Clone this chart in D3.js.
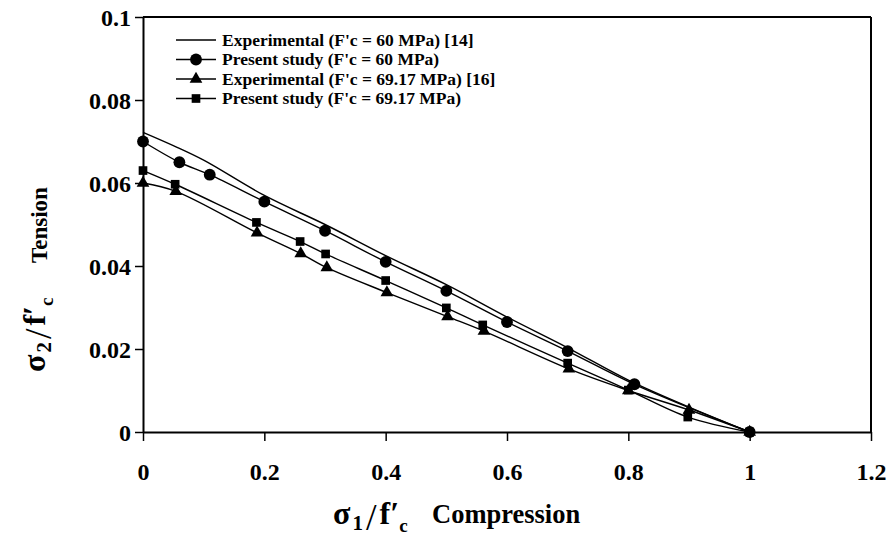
<!DOCTYPE html>
<html>
<head>
<meta charset="utf-8">
<script src="https://cdn.jsdelivr.net/npm/d3@7"></script>
<style>
  html, body { margin: 0; padding: 0; background: #fff; }
  svg text { font-family: "Liberation Serif", "DejaVu Serif", "Times New Roman", serif; font-weight: bold; fill: #000; }
</style>
</head>
<body>
<div id="chart"></div>
<script>
// --- data ---
const xTicks = [0, 0.2, 0.4, 0.6, 0.8, 1, 1.2];
const yTicks = [0, 0.02, 0.04, 0.06, 0.08, 0.1];

const exp60X = [0, 0.05, 0.1, 0.2, 0.3, 0.4, 0.5, 0.6, 0.7, 0.8, 0.9, 1.0];
const exp60Y = [0.0722, 0.069, 0.0655, 0.057, 0.050, 0.0425, 0.0355, 0.0277, 0.0203, 0.0125, 0.006, 0];

const pres60X = [0, 0.06, 0.11, 0.2, 0.3, 0.4, 0.5, 0.6, 0.7, 0.81, 1.0];
const pres60Y = [0.070, 0.065, 0.062, 0.0555, 0.0485, 0.041, 0.034, 0.0265, 0.0195, 0.0115, 0];

const exp69X = [0, 0.054, 0.188, 0.26, 0.303, 0.402, 0.502, 0.562, 0.702, 0.8, 0.9, 1.0];
const exp69Y = [0.060, 0.058, 0.048, 0.043, 0.0396, 0.0336, 0.0278, 0.0243, 0.0152, 0.0100, 0.0053, 0];

const pres69X = [0, 0.053, 0.187, 0.259, 0.301, 0.4, 0.5, 0.56, 0.7, 0.8, 0.898, 1.0];
const pres69Y = [0.063, 0.0597, 0.0505, 0.0459, 0.0429, 0.0365, 0.0299, 0.0258, 0.0166, 0.0101, 0.0036, 0];

const legendLabels = [
  "Experimental (F'c = 60 MPa) [14]",
  "Present study (F'c = 60 MPa)",
  "Experimental (F'c = 69.17 MPa) [16]",
  "Present study (F'c = 69.17 MPa)"
];

const W = 891, H = 543;
const margin = {top: 17, right: 20, bottom: 111, left: 143};
const iw = W - margin.left - margin.right;
const ih = H - margin.top - margin.bottom;

const svg = d3.select('#chart').append('svg')
  .attr('width', W).attr('height', H);

const g = svg.append('g').attr('transform', `translate(${margin.left},${margin.top})`);

const x = d3.scaleLinear().domain([0, 1.2]).range([0, iw]);
const y = d3.scaleLinear().domain([0, 0.1]).range([ih, 0]);

const fmt = d => d === 0 ? '0' : String(+d.toFixed(2));

// frame: top + right
g.append('line').attr('x1', 0).attr('x2', iw).attr('y1', 0).attr('y2', 0)
  .attr('stroke', '#000').attr('stroke-width', 2);
g.append('line').attr('x1', iw).attr('x2', iw).attr('y1', 0).attr('y2', ih)
  .attr('stroke', '#000').attr('stroke-width', 2);

// axes
const xAxis = g.append('g').attr('transform', `translate(0,${ih})`)
  .call(d3.axisBottom(x).tickValues(xTicks).tickFormat(fmt).tickSize(9).tickSizeOuter(0));
const yAxis = g.append('g')
  .call(d3.axisLeft(y).tickValues(yTicks).tickFormat(fmt).tickSize(8).tickSizeOuter(0));

[xAxis, yAxis].forEach(a => {
  a.attr('font-family', null).attr('font-size', null);
  a.select('.domain').attr('stroke-width', 2);
  a.selectAll('.tick line').attr('stroke-width', 1.5);
  a.selectAll('.tick text').attr('font-size', 24);
});
xAxis.selectAll('.tick text').attr('y', 48).attr('dy', 0);
yAxis.selectAll('.tick text').attr('x', -12).attr('dy', '0.35em');

// series
const series = [
  {xs: exp60X, ys: exp60Y, marker: null},
  {xs: pres60X, ys: pres60Y, marker: 'circle'},
  {xs: exp69X, ys: exp69Y, marker: 'triangle'},
  {xs: pres69X, ys: pres69Y, marker: 'square'}
];

const line = d3.line().x(d => x(d[0])).y(d => y(d[1])).curve(d3.curveCatmullRom.alpha(0.5));

const symbolFor = m => {
  if (m === 'circle') return d3.symbol().type(d3.symbolCircle).size(110)();
  if (m === 'triangle') return d3.symbol().type(d3.symbolTriangle).size(70)();
  if (m === 'square') return d3.symbol().type(d3.symbolSquare).size(75)();
  return null;
};

series.forEach(s => {
  const pts = s.xs.map((v, i) => [v, s.ys[i]]);
  g.append('path').datum(pts).attr('d', line)
    .attr('fill', 'none').attr('stroke', '#000').attr('stroke-width', 1.4);
});
series.forEach(s => {
  if (!s.marker) return;
  const pts = s.xs.map((v, i) => [v, s.ys[i]]);
  g.selectAll(null).data(pts).enter().append('path')
    .attr('d', symbolFor(s.marker))
    .attr('transform', d => `translate(${x(d[0])},${y(d[1])})`)
    .attr('fill', '#000');
});

// legend
const lg = svg.append('g').attr('transform', 'translate(176,40)');
const legendMarkers = [null, 'circle', 'triangle', 'square'];
legendLabels.forEach((lab, i) => {
  const row = lg.append('g').attr('transform', `translate(0,${i * 19.5})`);
  row.append('line').attr('x1', 0).attr('x2', 40).attr('y1', 0).attr('y2', 0)
    .attr('stroke', '#000').attr('stroke-width', 1.4);
  if (legendMarkers[i]) {
    row.append('path').attr('d', symbolFor(legendMarkers[i]))
      .attr('transform', 'translate(20,0)').attr('fill', '#000');
  }
  row.append('text').attr('x', 46).attr('y', 0).attr('dy', '0.33em')
    .attr('font-size', 17.5).text(lab);
});

// axis title pieces: sigma_n / f'_c
function ratio(sel, n) {
  sel.append('tspan').attr('font-size', 32).text('σ');
  sel.append('tspan').attr('font-size', 21).attr('dy', 6).attr('dx', 2).text(n);
  sel.append('tspan').attr('font-size', 38).attr('font-weight', 'normal').attr('dy', 0).attr('dx', 3).text('/');
  sel.append('tspan').attr('font-size', 32).attr('dy', -6).attr('dx', 3).text('f′');
  sel.append('tspan').attr('font-size', 19).attr('dy', 8).attr('dx', 0).text('c');
}

// x axis title
ratio(svg.append('text').attr('x', 333).attr('y', 524), '1');
svg.append('text').attr('x', 432).attr('y', 523).attr('font-size', 26.5).text('Compression');

// y axis title, rotated
ratio(svg.append('text').attr('transform', 'translate(45,372) rotate(-90)'), '2');
svg.append('text').attr('transform', 'translate(47,263) rotate(-90)')
  .attr('font-size', 23).text('Tension');
</script>
</body>
</html>
